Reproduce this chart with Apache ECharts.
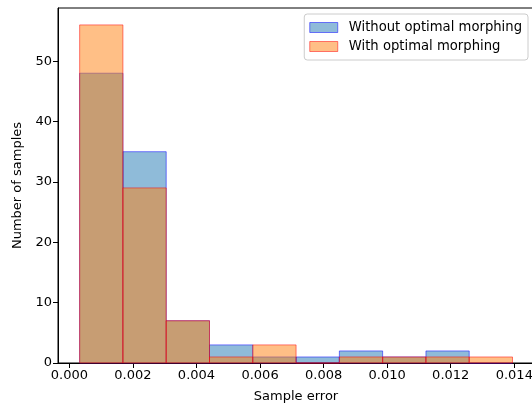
<!DOCTYPE html>
<html>
<head>
<meta charset="utf-8">
<script src="https://cdn.jsdelivr.net/npm/echarts@6/dist/echarts.min.js"></script>
<style>html,body{margin:0;padding:0;background:#fff}#c{width:532px;height:407px}</style>
</head>
<body>
<div id="c"></div>
<script>
// Histogram bin edges (sample error)
const binEdges = [0.000324, 0.001686, 0.003048, 0.004410, 0.005772, 0.007134, 0.008496, 0.009858, 0.011220, 0.012582, 0.013944];
// Counts per bin
const withoutCounts = [48, 35, 7, 3, 1, 1, 2, 1, 2, 0];
const withCounts = [56, 29, 7, 1, 3, 0, 1, 1, 1, 1];
const xTicks = [0, 0.002, 0.004, 0.006, 0.008, 0.010, 0.012, 0.014];
const yTicks = [0, 10, 20, 30, 40, 50];
const seriesNames = ['Without optimal morphing', 'With optimal morphing'];

const FONT = 'DejaVu Sans';
const FS = 13;
const styles = [
  {fill: 'rgba(31,119,180,0.5)', stroke: 'rgba(0,0,255,0.5)'},
  {fill: 'rgba(255,127,14,0.5)', stroke: 'rgba(255,0,0,0.5)'}
];

function toData(counts) {
  return counts.map((c, i) => [binEdges[i], binEdges[i + 1], c]);
}
function makeRender(st) {
  return function (params, api) {
    const p0 = api.coord([api.value(0), api.value(2)]);
    const p1 = api.coord([api.value(1), 0]);
    return {
      type: 'rect',
      shape: {x: p0[0], y: p0[1], width: p1[0] - p0[0], height: p1[1] - p0[1]},
      style: {fill: st.fill, stroke: st.stroke, lineWidth: 1}
    };
  };
}

const chart = echarts.init(document.getElementById('c'), null, {renderer: 'canvas'});
chart.setOption({
  animation: false,
  backgroundColor: '#fff',
  textStyle: {fontFamily: FONT},
  grid: {left: 58, top: 8, width: 476, bottom: 44, outerBoundsMode: 'none', containLabel: false, show: true, borderColor: '#000', borderWidth: 1, backgroundColor: 'transparent'},
  legend: {
    orient: 'vertical', right: 4, top: 14,
    itemWidth: 28, itemHeight: 10, itemGap: 6,
    padding: [7, 6, 7, 5],
    backgroundColor: 'rgba(255,255,255,0.8)', borderColor: '#cccccc', borderWidth: 1, borderRadius: 3,
    textStyle: {fontFamily: FONT, fontSize: 13.2, color: '#000', padding: [0, 0, 0, 6]},
    data: seriesNames.map((n, i) => ({name: n, icon: 'rect', itemStyle: {color: styles[i].fill, borderColor: styles[i].stroke, borderWidth: 1}}))
  },
  xAxis: {
    type: 'value', min: -0.000357, max: 0.01462,
    name: 'Sample error', nameLocation: 'middle', nameGap: 27,
    nameTextStyle: {fontFamily: FONT, fontSize: FS, color: '#000'},
    axisLine: {show: true, onZero: false, lineStyle: {color: '#000', width: 1}},
    axisTick: {show: true, length: 5, lineStyle: {color: '#000'}, customValues: xTicks},
    axisLabel: {fontFamily: FONT, fontSize: FS, color: '#000', margin: 6, customValues: xTicks, formatter: v => v.toFixed(3)},
    splitLine: {show: false}
  },
  yAxis: {
    type: 'value', min: 0, max: 58.8,
    name: 'Number of samples', nameLocation: 'middle', nameGap: 34,
    nameTextStyle: {fontFamily: FONT, fontSize: FS, color: '#000'},
    axisLine: {show: true, onZero: false, lineStyle: {color: '#000', width: 1}},
    axisTick: {show: true, length: 5, lineStyle: {color: '#000'}, customValues: yTicks},
    axisLabel: {fontFamily: FONT, fontSize: FS, color: '#000', margin: 6, customValues: yTicks},
    splitLine: {show: false}
  },
  series: [
    {name: seriesNames[0], type: 'custom', renderItem: makeRender(styles[0]), data: toData(withoutCounts), encode: {x: [0, 1], y: 2}, itemStyle: {color: styles[0].fill, borderColor: styles[0].stroke}},
    {name: seriesNames[1], type: 'custom', renderItem: makeRender(styles[1]), data: toData(withCounts), encode: {x: [0, 1], y: 2}, itemStyle: {color: styles[1].fill, borderColor: styles[1].stroke}}
  ]
});
</script>
</body>
</html>
